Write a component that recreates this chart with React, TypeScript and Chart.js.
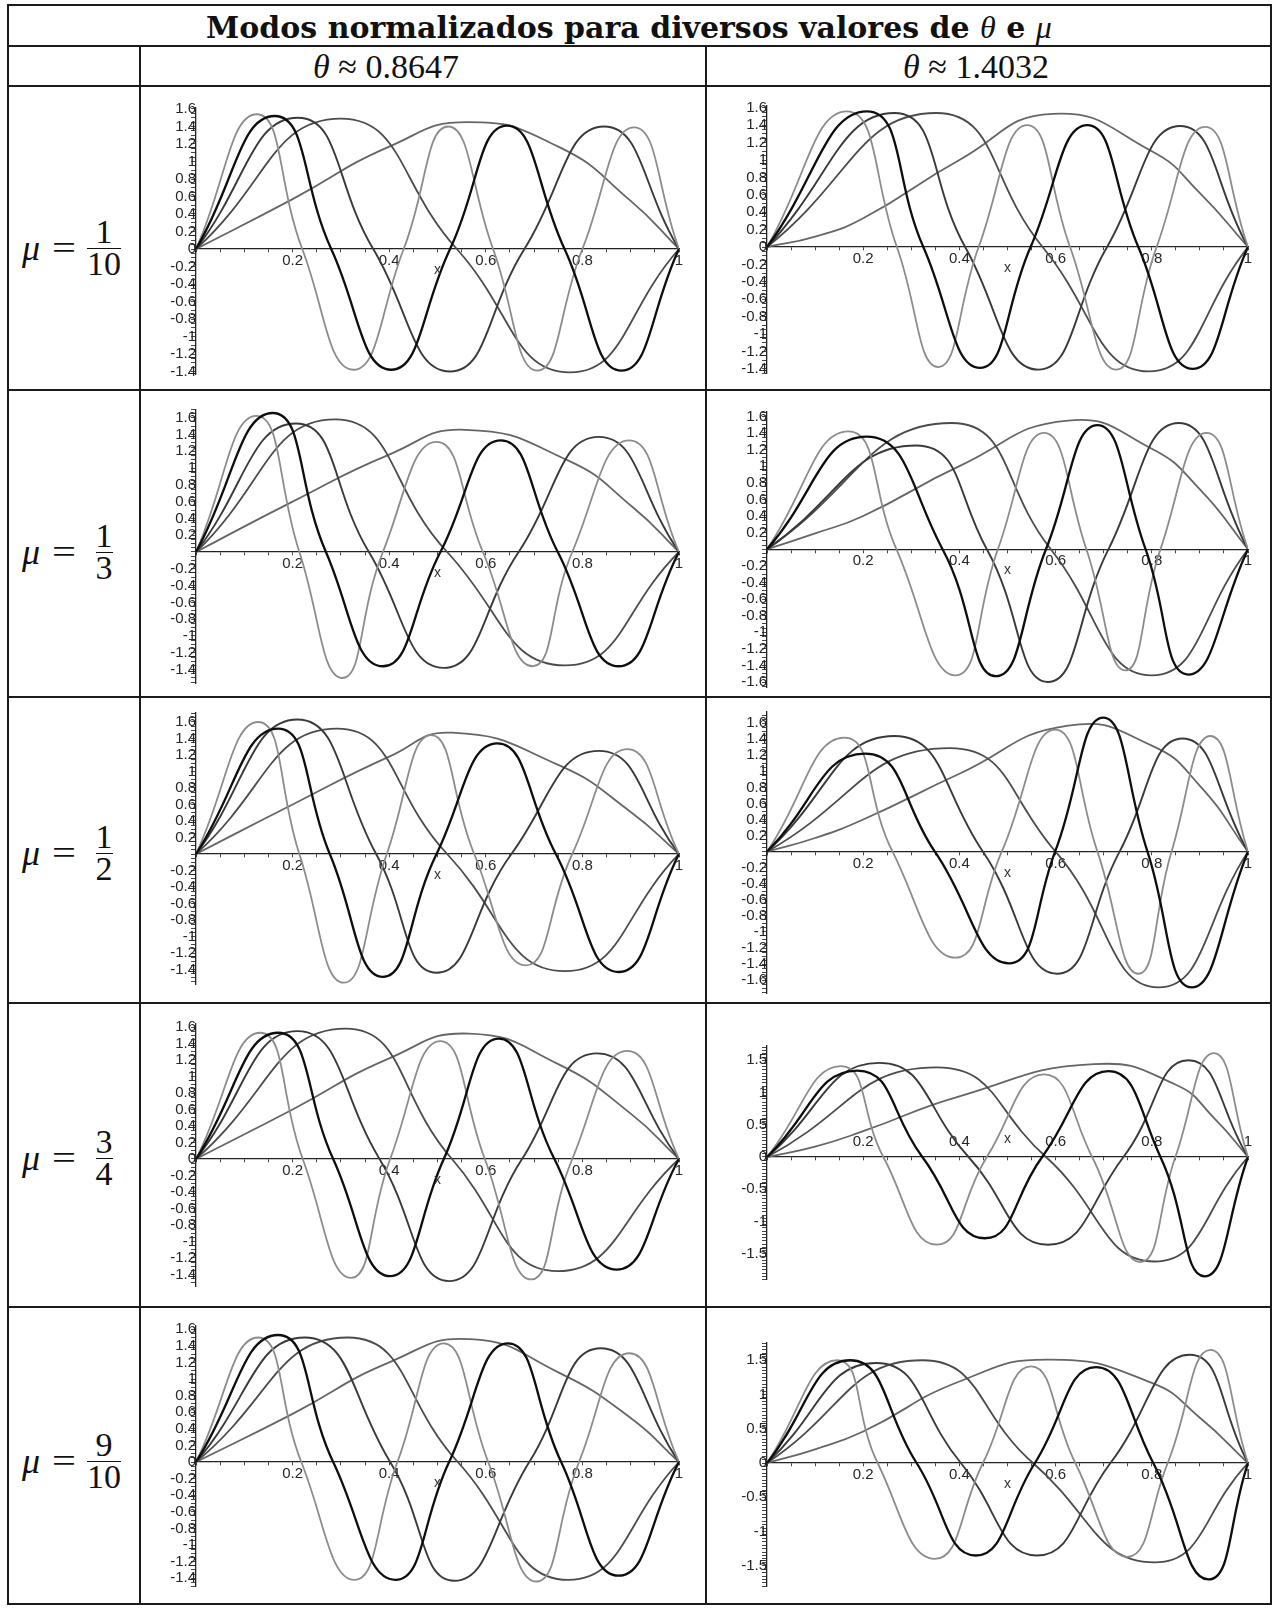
import { useEffect, useRef } from 'react';
import { Chart, registerables } from 'chart.js';

Chart.register(...registerables);

type Pt = [number, number];

// Normalised modes 1..5 on [0, 1]; each list holds zeros, extrema and a few shape points.

// θ ≈ 0.8647, μ = 1/10
const t1mu1of10: Pt[][] = [
  [[0, 0], [0.2, 0.57], [0.4, 1.17], [0.563, 1.45], [0.75, 1.17], [0.9, 0.55], [1, 0]],
  [[0, 0], [0.3, 1.49], [0.54, 0], [0.774, -1.41], [1, 0]],
  [[0, 0], [0.211, 1.5], [0.367, 0], [0.526, -1.4], [0.68, 0], [0.845, 1.4], [1, 0]],
  [[0, 0], [0.163, 1.52], [0.28, 0], [0.404, -1.38], [0.526, 0], [0.644, 1.41], [0.763, 0], [0.881, -1.39], [1, 0]],
  [[0, 0], [0.126, 1.54], [0.22, 0], [0.326, -1.38], [0.43, 0], [0.522, 1.4], [0.615, 0], [0.707, -1.39], [0.8, 0], [0.907, 1.39], [1, 0]],
];

// θ ≈ 1.4032, μ = 1/10
const t2mu1of10: Pt[][] = [
  [[0, 0], [0.1, 0.12], [0.2, 0.33], [0.4, 1.0], [0.594, 1.53], [0.8, 1.1], [0.9, 0.62], [1, 0]],
  [[0, 0], [0.352, 1.54], [0.573, 0], [0.794, -1.43], [1, 0]],
  [[0, 0], [0.265, 1.54], [0.412, 0], [0.564, -1.41], [0.707, 0], [0.859, 1.39], [1, 0]],
  [[0, 0], [0.208, 1.56], [0.325, 0], [0.443, -1.39], [0.548, 0], [0.666, 1.4], [0.772, 0], [0.885, -1.4], [1, 0]],
  [[0, 0], [0.166, 1.56], [0.27, 0], [0.356, -1.38], [0.44, 0], [0.541, 1.4], [0.63, 0], [0.726, -1.41], [0.81, 0], [0.911, 1.38], [1, 0]],
];

// θ ≈ 0.8647, μ = 1/3
const t1mu1of3: Pt[][] = [
  [[0, 0], [0.2, 0.6], [0.4, 1.16], [0.557, 1.455], [0.77, 1.09], [0.905, 0.53], [1, 0]],
  [[0, 0], [0.288, 1.58], [0.52, 0], [0.764, -1.35], [1, 0]],
  [[0, 0], [0.207, 1.53], [0.358, 0], [0.513, -1.38], [0.668, 0], [0.834, 1.37], [1, 0]],
  [[0, 0], [0.159, 1.655], [0.269, 0], [0.387, -1.36], [0.506, 0], [0.631, 1.33], [0.749, 0], [0.875, -1.36], [1, 0]],
  [[0, 0], [0.125, 1.62], [0.214, 0], [0.303, -1.5], [0.387, 0], [0.498, 1.31], [0.594, 0], [0.697, -1.36], [0.779, 0], [0.897, 1.33], [1, 0]],
];

// θ ≈ 1.4032, μ = 1/3
const t2mu1of3: Pt[][] = [
  [[0, 0], [0.1, 0.19], [0.2, 0.4], [0.4, 1.0], [0.626, 1.55], [0.8, 1.21], [0.9, 0.72], [1, 0]],
  [[0, 0], [0.384, 1.52], [0.59, 0], [0.8, -1.52], [1, 0]],
  [[0, 0], [0.31, 1.25], [0.457, 0], [0.584, -1.6], [0.71, 0], [0.856, 1.52], [1, 0]],
  [[0, 0], [0.207, 1.355], [0.365, 0], [0.476, -1.53], [0.58, 0], [0.687, 1.495], [0.787, 0], [0.876, -1.51], [1, 0]],
  [[0, 0], [0.169, 1.42], [0.269, 0], [0.392, -1.52], [0.48, 0], [0.576, 1.4], [0.664, 0], [0.745, -1.46], [0.818, 0], [0.914, 1.4], [1, 0]],
];

// θ ≈ 0.8647, μ = 1/2
const t1mu1of2: Pt[][] = [
  [[0, 0], [0.2, 0.6], [0.4, 1.18], [0.53, 1.47], [0.75, 1.08], [0.9, 0.51], [1, 0]],
  [[0, 0], [0.292, 1.52], [0.52, 0], [0.764, -1.42], [1, 0]],
  [[0, 0], [0.21, 1.63], [0.373, 0], [0.498, -1.44], [0.653, 0], [0.834, 1.25], [1, 0]],
  [[0, 0], [0.17, 1.52], [0.277, 0], [0.387, -1.49], [0.498, 0], [0.624, 1.34], [0.745, 0], [0.875, -1.43], [1, 0]],
  [[0, 0], [0.129, 1.6], [0.214, 0], [0.306, -1.56], [0.395, 0], [0.487, 1.44], [0.576, 0], [0.683, -1.35], [0.779, 0], [0.893, 1.27], [1, 0]],
];

// θ ≈ 1.4032, μ = 1/2
const t2mu1of2: Pt[][] = [
  [[0, 0], [0.1, 0.17], [0.2, 0.4], [0.4, 0.97], [0.626, 1.57], [0.8, 1.32], [0.9, 0.82], [1, 0]],
  [[0, 0], [0.38, 1.29], [0.6, 0], [0.814, -1.69], [1, 0]],
  [[0, 0], [0.265, 1.44], [0.449, 0], [0.603, -1.52], [0.733, 0], [0.864, 1.41], [1, 0]],
  [[0, 0], [0.204, 1.22], [0.349, 0], [0.503, -1.39], [0.599, 0], [0.699, 1.67], [0.791, 0], [0.883, -1.69], [1, 0]],
  [[0, 0], [0.161, 1.42], [0.261, 0], [0.392, -1.32], [0.488, 0], [0.599, 1.52], [0.687, 0], [0.772, -1.52], [0.841, 0], [0.922, 1.44], [1, 0]],
];

// θ ≈ 0.8647, μ = 3/4
const t1mu3of4: Pt[][] = [
  [[0, 0], [0.2, 0.6], [0.4, 1.22], [0.565, 1.52], [0.75, 1.15], [0.9, 0.55], [1, 0]],
  [[0, 0], [0.31, 1.58], [0.53, 0], [0.749, -1.36], [1, 0]],
  [[0, 0], [0.21, 1.55], [0.38, 0], [0.524, -1.48], [0.675, 0], [0.83, 1.28], [1, 0]],
  [[0, 0], [0.17, 1.53], [0.284, 0], [0.402, -1.42], [0.513, 0], [0.627, 1.46], [0.742, 0], [0.871, -1.34], [1, 0]],
  [[0, 0], [0.133, 1.53], [0.221, 0], [0.321, -1.44], [0.402, 0], [0.506, 1.43], [0.598, 0], [0.694, -1.46], [0.779, 0], [0.893, 1.31], [1, 0]],
];

// θ ≈ 1.4032, μ = 3/4
const t2mu3of4: Pt[][] = [
  [[0, 0], [0.1, 0.16], [0.2, 0.4], [0.4, 0.94], [0.68, 1.44], [0.85, 1.12], [0.93, 0.6], [1, 0]],
  [[0, 0], [0.353, 1.39], [0.58, 0], [0.806, -1.62], [1, 0]],
  [[0, 0], [0.234, 1.46], [0.419, 0], [0.584, -1.36], [0.741, 0], [0.876, 1.5], [1, 0]],
  [[0, 0], [0.188, 1.34], [0.323, 0], [0.453, -1.26], [0.572, 0], [0.71, 1.33], [0.818, 0], [0.91, -1.85], [1, 0]],
  [[0, 0], [0.154, 1.41], [0.242, 0], [0.353, -1.36], [0.457, 0], [0.576, 1.28], [0.676, 0], [0.776, -1.63], [0.849, 0], [0.929, 1.61], [1, 0]],
];

// θ ≈ 0.8647, μ = 9/10
const t1mu9of10: Pt[][] = [
  [[0, 0], [0.2, 0.58], [0.4, 1.2], [0.568, 1.48], [0.75, 1.08], [0.9, 0.53], [1, 0]],
  [[0, 0], [0.314, 1.5], [0.542, 0], [0.771, -1.42], [1, 0]],
  [[0, 0], [0.225, 1.5], [0.402, 0], [0.535, -1.43], [0.69, 0], [0.838, 1.37], [1, 0]],
  [[0, 0], [0.17, 1.53], [0.284, 0], [0.413, -1.42], [0.524, 0], [0.646, 1.43], [0.756, 0], [0.875, -1.37], [1, 0]],
  [[0, 0], [0.129, 1.5], [0.218, 0], [0.328, -1.42], [0.417, 0], [0.513, 1.43], [0.605, 0], [0.705, -1.44], [0.793, 0], [0.897, 1.31], [1, 0]],
];

// θ ≈ 1.4032, μ = 9/10
const t2mu9of10: Pt[][] = [
  [[0, 0], [0.1, 0.2], [0.2, 0.46], [0.4, 1.19], [0.588, 1.51], [0.8, 1.17], [0.9, 0.66], [1, 0]],
  [[0, 0], [0.323, 1.5], [0.553, 0], [0.806, -1.45], [1, 0]],
  [[0, 0], [0.227, 1.46], [0.403, 0], [0.561, -1.35], [0.714, 0], [0.879, 1.58], [1, 0]],
  [[0, 0], [0.173, 1.5], [0.311, 0], [0.434, -1.35], [0.557, 0], [0.684, 1.4], [0.803, 0], [0.918, -1.7], [1, 0]],
  [[0, 0], [0.146, 1.5], [0.23, 0], [0.349, -1.4], [0.449, 0], [0.549, 1.41], [0.641, 0], [0.749, -1.37], [0.833, 0], [0.922, 1.65], [1, 0]],
];

// Axis labels
const X_LABELS = [0.2, 0.4, 0.6, 0.8, 1];
const Y_LABELS_FINE = [-1.6, -1.4, -1.2, -1, -0.8, -0.6, -0.4, -0.2, 0, 0.2, 0.4, 0.6, 0.8, 1, 1.2, 1.4, 1.6];
const Y_LABELS_COARSE = [-1.5, -1, -0.5, 0, 0.5, 1, 1.5];

// Row and column headings
const THETAS = ['0.8647', '1.4032'];
const MU_NUM = ['1', '1', '1', '3', '9'];
const MU_DEN = ['10', '3', '2', '4', '10'];

const MODE_COLORS = ['#666666', '#4c4c4c', '#3a3a3a', '#0e0e0e', '#8c8c8c'];
const MODE_WIDTHS = [1.8, 1.8, 1.9, 2.3, 1.8];
const MODE_ORDER = [4, 3, 2, 0, 1];

const SERIF = '"Liberation Serif", "DejaVu Serif", serif';
const SANS = '"Liberation Sans", Arial, sans-serif';
const INK = '#1b1b1b';
const TICK_FONT_PX = 15;

// Table geometry
const ROWS = [
  { top: 86, bottom: 390, mid: 248 },
  { top: 390, bottom: 697, mid: 552 },
  { top: 697, bottom: 1003, mid: 853 },
  { top: 1003, bottom: 1307, mid: 1158 },
  { top: 1307, bottom: 1604, mid: 1461 },
];
const COLS = [
  { left: 140, right: 705, x0: 196, x1: 679 },
  { left: 706, right: 1271, x0: 767, x1: 1248 },
];

interface PanelSpec {
  modes: Pt[][];
  row: number;
  col: number;
  yMin: number;
  yMax: number;
  zeroY: number;
  unit: number;
  yLabels: number[];
  yStep: number;
  showZero: boolean;
  xLabelsAbove: boolean;
}

const PANELS: PanelSpec[] = [
  { modes: t1mu1of10, row: 0, col: 0, yMin: -1.43, yMax: 1.62, zeroY: 249, unit: 87.5, yLabels: Y_LABELS_FINE, yStep: 0.05, showZero: true, xLabelsAbove: false },
  { modes: t2mu1of10, row: 0, col: 1, yMin: -1.45, yMax: 1.62, zeroY: 247, unit: 87, yLabels: Y_LABELS_FINE, yStep: 0.05, showZero: true, xLabelsAbove: false },
  { modes: t1mu1of3, row: 1, col: 0, yMin: -1.56, yMax: 1.7, zeroY: 552, unit: 84, yLabels: Y_LABELS_FINE, yStep: 0.05, showZero: false, xLabelsAbove: false },
  { modes: t2mu1of3, row: 1, col: 1, yMin: -1.66, yMax: 1.66, zeroY: 550, unit: 83.5, yLabels: Y_LABELS_FINE, yStep: 0.05, showZero: false, xLabelsAbove: false },
  { modes: t1mu1of2, row: 2, col: 0, yMin: -1.58, yMax: 1.71, zeroY: 854, unit: 82.5, yLabels: Y_LABELS_FINE, yStep: 0.05, showZero: false, xLabelsAbove: false },
  { modes: t2mu1of2, row: 2, col: 1, yMin: -1.76, yMax: 1.74, zeroY: 852, unit: 80.5, yLabels: Y_LABELS_FINE, yStep: 0.05, showZero: false, xLabelsAbove: false },
  { modes: t1mu3of4, row: 3, col: 0, yMin: -1.54, yMax: 1.64, zeroY: 1159, unit: 82.5, yLabels: Y_LABELS_FINE, yStep: 0.05, showZero: true, xLabelsAbove: false },
  { modes: t2mu3of4, row: 3, col: 1, yMin: -1.9, yMax: 1.72, zeroY: 1157, unit: 64.5, yLabels: Y_LABELS_COARSE, yStep: 0.05, showZero: true, xLabelsAbove: true },
  { modes: t1mu9of10, row: 4, col: 0, yMin: -1.5, yMax: 1.64, zeroY: 1462, unit: 83, yLabels: Y_LABELS_FINE, yStep: 0.05, showZero: true, xLabelsAbove: false },
  { modes: t2mu9of10, row: 4, col: 1, yMin: -1.8, yMax: 1.75, zeroY: 1463, unit: 68.5, yLabels: Y_LABELS_COARSE, yStep: 0.05, showZero: true, xLabelsAbove: false },
];

const near = (a: number, b: number) => Math.abs(a - b) < 1e-6;

// Writes the variable name next to the horizontal axis, at x = 0.5.
const axisNamePlugin = {
  id: 'axisName',
  afterDraw(chart: any, _args: any, opts: any) {
    const xs = chart.scales.x;
    const ys = chart.scales.y;
    const ctx = chart.ctx;
    ctx.save();
    ctx.font = `14px ${SANS}`;
    ctx.fillStyle = '#333';
    ctx.textAlign = 'center';
    ctx.textBaseline = 'middle';
    ctx.fillText('x', xs.getPixelForValue(0.5), ys.getPixelForValue(0) + opts.dy);
    ctx.restore();
  },
};

function Panel({ spec }: { spec: PanelSpec }) {
  const ref = useRef<HTMLCanvasElement | null>(null);
  const row = ROWS[spec.row];
  const col = COLS[spec.col];
  const left = col.left;
  const top = row.top + 1;
  const width = col.right - col.left;
  const height = row.bottom - row.top - 1;

  useEffect(() => {
    const canvas = ref.current;
    if (!canvas) return;
    const padTop = spec.zeroY - spec.unit * spec.yMax - top;
    const padBottom = top + height - (spec.zeroY - spec.unit * spec.yMin);
    const padLeft = col.x0 - left;
    const padRight = left + width - col.x1;

    const xTicks: number[] = [];
    for (let k = 0; k <= 20; k++) xTicks.push(Math.round(k * 5) / 100);
    const yTicks: number[] = [];
    const per = Math.round(1 / spec.yStep);
    for (let k = Math.ceil(spec.yMin * per - 1e-9); k <= Math.floor(spec.yMax * per + 1e-9); k++) {
      yTicks.push(Math.round((k / per) * 100) / 100);
    }

    const tickFont = { family: SANS, size: TICK_FONT_PX, lineHeight: 1.2 };
    const chart = new Chart(canvas, {
      type: 'line',
      data: {
        datasets: spec.modes.map((pts, i) => ({
          data: pts.map(([x, y]) => ({ x, y })),
          borderColor: MODE_COLORS[i],
          borderWidth: MODE_WIDTHS[i],
          pointRadius: 0,
          tension: 0.5,
          fill: false,
          order: MODE_ORDER[i],
        })),
      },
      options: {
        animation: false,
        responsive: false,
        maintainAspectRatio: false,
        devicePixelRatio: 1,
        font: { family: SANS, size: TICK_FONT_PX },
        layout: { padding: { left: padLeft, right: padRight, top: padTop, bottom: padBottom } },
        plugins: {
          legend: { display: false },
          tooltip: { enabled: false },
          axisName: { dy: spec.xLabelsAbove ? -18 : 21 },
        } as any,
        scales: {
          x: {
            type: 'linear',
            min: 0,
            max: 1,
            position: { y: 0 } as any,
            afterBuildTicks: (scale: any) => {
              scale.ticks = xTicks.map((value) => ({ value }));
            },
            border: { display: true, color: '#222', width: 1.3 },
            grid: { display: true, drawOnChartArea: false, drawTicks: true, tickLength: 3, tickColor: '#444', tickWidth: 1 },
            ticks: {
              autoSkip: false,
              maxRotation: 0,
              padding: spec.xLabelsAbove ? -27 : 0,
              color: '#262626',
              font: tickFont,
              callback: (v: any) => {
                const hit = X_LABELS.find((l) => near(l, Number(v)));
                return hit === undefined ? '' : String(hit);
              },
            },
          },
          y: {
            type: 'linear',
            min: spec.yMin,
            max: spec.yMax,
            position: { x: 0 } as any,
            afterBuildTicks: (scale: any) => {
              scale.ticks = yTicks.map((value) => ({ value }));
            },
            border: { display: true, color: '#222', width: 1.3 },
            grid: { display: true, drawOnChartArea: false, drawTicks: true, tickLength: 4, tickColor: '#444', tickWidth: 1 },
            ticks: {
              autoSkip: false,
              padding: 1,
              color: '#262626',
              font: tickFont,
              callback: (v: any) => {
                const hit = spec.yLabels.find((l) => near(l, Number(v)));
                if (hit === undefined) return '';
                if (hit === 0 && !spec.showZero) return '';
                return String(hit);
              },
            },
          },
        },
      } as any,
      plugins: [axisNamePlugin],
    });
    return () => chart.destroy();
  }, [spec]);

  return (
    <canvas
      ref={ref}
      width={width}
      height={height}
      style={{ position: 'absolute', left, top, width, height }}
    />
  );
}

function HLine({ y, x0, x1 }: { y: number; x0: number; x1: number }) {
  return <div style={{ position: 'absolute', left: x0, top: y - 1, width: x1 - x0, height: 2, background: INK }} />;
}

function VLine({ x, y0, y1 }: { x: number; y0: number; y1: number }) {
  return <div style={{ position: 'absolute', left: x - 1, top: y0, width: 2, height: y1 - y0, background: INK }} />;
}

function MuLabel({ num, den, cy }: { num: string; den: string; cy: number }) {
  const box = { position: 'absolute' as const, top: cy - 40, height: 80, display: 'flex', alignItems: 'center', fontFamily: SERIF, color: '#111' };
  return (
    <>
      <div style={{ ...box, left: 22 }}>
        <span style={{ fontStyle: 'italic', fontSize: 36 }}>μ</span>
      </div>
      <div style={{ ...box, left: 52 }}>
        <span style={{ fontSize: 34, display: 'inline-block', transform: 'scaleX(1.25)', transformOrigin: 'left center' }}>=</span>
      </div>
      <div style={{ ...box, left: 84, width: 40, justifyContent: 'center' }}>
        <span
          style={{
            display: 'inline-flex',
            flexDirection: 'column',
            alignItems: 'center',
            fontSize: 34,
            lineHeight: '26px',
          }}
        >
          <span>{num}</span>
          <span style={{ alignSelf: 'stretch', borderTop: '1.5px solid #111', margin: '3px 0 2px 0' }} />
          <span>{den}</span>
        </span>
      </div>
    </>
  );
}

export default function App() {
  return (
    <div
      style={{
        position: 'absolute',
        left: 0,
        top: 0,
        width: 1274,
        height: 1608,
        background: '#fff',
        overflow: 'hidden',
      }}
    >
      {PANELS.map((p, i) => (
        <Panel key={i} spec={p} />
      ))}

      <div
        style={{
          position: 'absolute',
          left: 629,
          top: 27,
          transform: 'translate(-50%, -50%)',
          whiteSpace: 'nowrap',
          fontFamily: '"DejaVu Serif", serif',
          fontWeight: 'bold',
          fontSize: 30,
          color: '#111',
        }}
      >
        Modos normalizados para diversos valores de{' '}
        <span style={{ fontFamily: SERIF, fontStyle: 'italic', fontWeight: 'normal', fontSize: 32 }}>θ</span> e{' '}
        <span style={{ fontFamily: SERIF, fontStyle: 'italic', fontWeight: 'normal', fontSize: 32 }}>μ</span>
      </div>

      {THETAS.map((t, i) => (
        <div
          key={t}
          style={{
            position: 'absolute',
            left: i === 0 ? 386 : 976,
            top: 67,
            transform: 'translate(-50%, -50%)',
            whiteSpace: 'nowrap',
            fontFamily: SERIF,
            fontSize: 34,
            color: '#111',
          }}
        >
          <span style={{ fontStyle: 'italic' }}>θ</span> ≈ {t}
        </div>
      ))}

      {ROWS.map((r, i) => (
        <MuLabel key={i} num={MU_NUM[i]} den={MU_DEN[i]} cy={r.mid} />
      ))}

      <HLine y={5} x0={7} x1={1272} />
      <HLine y={46} x0={7} x1={1272} />
      {ROWS.map((r, i) => (
        <HLine key={i} y={r.bottom} x0={7} x1={1272} />
      ))}
      <HLine y={86} x0={7} x1={1272} />
      <VLine x={8} y0={4} y1={1605} />
      <VLine x={140} y0={46} y1={1605} />
      <VLine x={706} y0={46} y1={1605} />
      <VLine x={1271} y0={4} y1={1605} />
    </div>
  );
}
